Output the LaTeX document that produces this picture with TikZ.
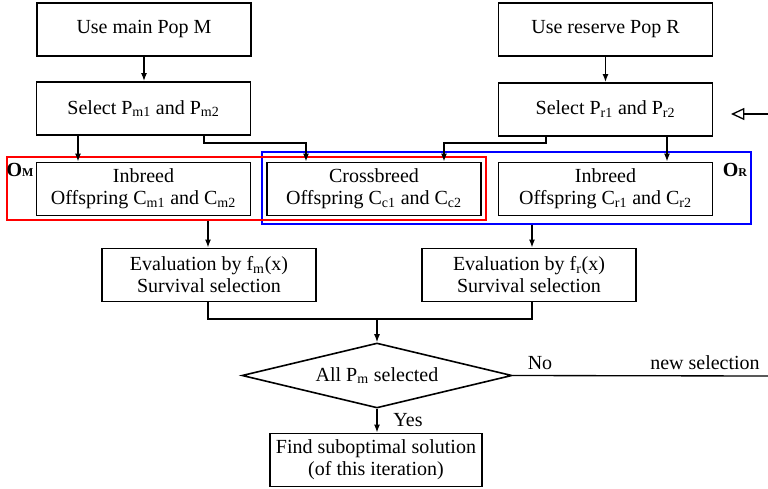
\documentclass[tikz,border=0pt]{standalone}
\usepackage{fontspec}
\setmainfont{Liberation Serif}
\usetikzlibrary{shapes.geometric,arrows.meta}
\begin{document}
\begin{tikzpicture}[x=0.75pt,y=-0.75pt,
  font=\fontsize{15pt}{16.5pt}\selectfont,
  box/.style={draw,line width=1.2pt,align=center,inner sep=0pt,minimum width=160.5pt,minimum height=40pt},
  grp/.style={line width=1.1pt,inner sep=0pt},
  dec/.style={draw,line width=1.2pt,diamond,aspect=4.15,inner sep=0pt,minimum width=202.5pt,minimum height=48.75pt},
  arr/.style={line width=1pt,-{Latex[length=6pt,width=4.5pt]}},
  ln/.style={line width=1pt},
  lbl/.style={inner sep=0pt}]
\useasboundingbox (0,0) rectangle (768,489);
% group frames
\node[grp,draw=blue,minimum width=366.75pt,minimum height=54pt] (OR) at (506.5,188) {};
\node[grp,draw=red,minimum width=359.25pt,minimum height=47.25pt] (OM) at (246.5,188.5) {};
% boxes
\node[box] (useM) at (144,29.5) {Use main Pop M};
\node[box] (useR) at (605.5,29.5) {Use reserve Pop R};
\node[box] (selM) at (143.5,108.5) {Select P\textsubscript{m1} and P\textsubscript{m2}};
\node[box] (selR) at (605.5,109.5) {Select P\textsubscript{r1} and P\textsubscript{r2}};
\node[box] (inM) at (143.5,189) {Inbreed\\Offspring C\textsubscript{m1} and C\textsubscript{m2}};
\node[box] (cross) at (374,189) {Crossbreed\\Offspring C\textsubscript{c1} and C\textsubscript{c2}};
\node[box] (inR) at (605.5,189) {Inbreed\\Offspring C\textsubscript{r1} and C\textsubscript{r2}};
\node[box] (evM) at (209,275) {Evaluation by f\textsubscript{m}(x)\\Survival selection};
\node[box] (evR) at (529,275) {Evaluation by f\textsubscript{r}(x)\\Survival selection};
\node[dec] (dec) at (377,375.5) {All P\textsubscript{m} selected};
\node[box,minimum width=159pt] (find) at (376,460) {Find suboptimal solution\\(of this iteration)};
% group labels
\node[lbl] (OMl) at (20,170) {\textbf{O{\fontsize{9pt}{10pt}\selectfont M}}};
\node[lbl] (ORl) at (735,170) {\textbf{O{\fontsize{9pt}{10pt}\selectfont R}}};
% text labels
\node[lbl] (no) at (540,363) {No};
\node[lbl] (newsel) at (705,363) {new selection};
\node[lbl] (yes) at (408,420) {Yes};
\coordinate (loopend) at (768,376);
\coordinate (loopin) at (768,114);
\coordinate (loopto) at (731,114);
% connectors
\draw[arr] (useM.south) -- (useM.south |- selM.north);
\draw[arr] (useR.south) -- (useR.south |- selR.north);
\draw[arr] (selM.south -| 78,0) -- (inM.north -| 78,0);
\draw[arr] (selM.south -| 204,0) -- (204,143) -- (306,143) -- (cross.north -| 306,0);
\draw[arr] (selR.south -| 546,0) -- (546,143) -- (444,143) -- (cross.north -| 444,0);
\draw[arr] (selR.south -| 667,0) -- (inR.north -| 667,0);
\draw[arr] (OM.south -| 208,0) -- (evM.north -| 208,0);
\draw[arr] (OR.south -| 532,0) -- (evR.north -| 532,0);
\draw[ln] (evM.south -| 208,0) -- (208,319) -- (532,319) -- (evR.south -| 532,0);
\draw[arr] (377,319) -- (dec.north);
\draw[arr] (dec.south) -- (find.north -| dec.south);
\draw[ln] (dec.east) -- (loopend);
\draw[line width=1pt,-{Triangle[open,length=10pt,width=9pt]}] (loopin) -- (loopto);
\end{tikzpicture}
\end{document}
